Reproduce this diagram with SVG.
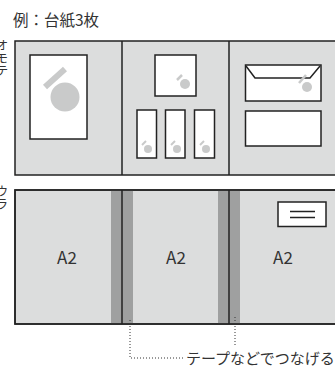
<svg xmlns="http://www.w3.org/2000/svg" width="335" height="367" viewBox="0 0 335 367">
<style>
.t{font-family:"Noto Sans CJK JP","Noto Sans",sans-serif;fill:#333}
.v{writing-mode:vertical-rl;font-size:12.5px}
.frame{fill:#dcdddd;stroke:#222;stroke-width:1.5}
.w{fill:#fff;stroke:#222;stroke-width:1.5}
.ln{stroke:#222;stroke-width:1.5;fill:none}
.c{fill:#c9caca}
.s{stroke:#c9caca;fill:none}
.tape{fill:#9fa0a0}
.dot{stroke:#333;stroke-width:1;stroke-dasharray:1 2;fill:none}
.a2{font-size:17px;text-anchor:middle}
</style>
<rect width="335" height="367" fill="#fff"/>
<text class="t" x="13" y="26" font-size="15.5">例：台紙3枚</text>
<g id="label-omote"><text class="t v" x="2" y="39">オモテ</text></g>
<g id="label-ura"><text class="t v" x="2" y="185">ウラ</text></g>
<g id="front">
<rect class="frame" x="15" y="41" width="330" height="134"/>
<line class="ln" x1="122" y1="41" x2="122" y2="175"/>
<line class="ln" x1="229" y1="41" x2="229" y2="175"/>
</g>
<g id="front-p1">
<rect class="w" x="30" y="55" width="57" height="84"/>
<line class="s" stroke-width="6" x1="45" y1="87" x2="65" y2="69"/>
<circle class="c" cx="65" cy="97" r="14.5"/>
</g>
<g id="front-p2">
<rect class="w" x="155" y="55" width="41" height="41"/>
<line class="s" stroke-width="2.5" x1="177" y1="80" x2="182" y2="75"/>
<circle class="c" cx="185" cy="84" r="5"/>
<rect class="w" x="137" y="110" width="19.5" height="48"/>
<rect class="w" x="165.5" y="110" width="19.5" height="48"/>
<rect class="w" x="194.5" y="110" width="20" height="48"/>
<line class="s" stroke-width="2" x1="142" y1="145" x2="146" y2="141"/>
<circle class="c" cx="148" cy="149" r="4"/>
<line class="s" stroke-width="2" x1="171" y1="145" x2="175" y2="141"/>
<circle class="c" cx="177" cy="149" r="4"/>
<line class="s" stroke-width="2" x1="200" y1="145" x2="204" y2="141"/>
<circle class="c" cx="206" cy="149" r="4"/>
</g>
<g id="front-p3">
<rect class="w" x="245.5" y="65" width="75.5" height="36"/>
<polyline class="ln" points="246,66 255,78 310,78 320,66"/>
<line class="s" stroke-width="2.5" x1="299" y1="83" x2="306" y2="75"/>
<circle class="c" cx="307" cy="87" r="5"/>
<rect class="w" x="245.5" y="111" width="75.5" height="35"/>
</g>
<g id="back">
<rect class="frame" x="15" y="190" width="330" height="134"/>
<rect class="tape" x="111" y="190.75" width="22" height="132.5"/>
<rect class="tape" x="218" y="190.75" width="22" height="132.5"/>
<line class="ln" x1="122" y1="190" x2="122" y2="324"/>
<line class="ln" x1="229" y1="190" x2="229" y2="324"/>
<rect x="15" y="190" width="330" height="134" fill="none" stroke="#222" stroke-width="1.5"/>
</g>
<g id="back-p1"><text class="t a2" x="67" y="264">A2</text></g>
<g id="back-p2"><text class="t a2" x="176" y="264">A2</text></g>
<g id="back-p3">
<text class="t a2" x="283" y="264">A2</text>
<rect class="w" x="278" y="202" width="48" height="24.5"/>
<line class="ln" x1="290" y1="211.5" x2="315" y2="211.5"/>
<line class="ln" x1="290" y1="217.5" x2="315" y2="217.5"/>
</g>
<g id="connectors">
<polyline class="dot" points="130,320 130,358 184,358"/>
<line class="dot" x1="235" y1="317" x2="235" y2="346"/>
</g>
<g id="note"><text class="t" x="186" y="364" font-size="15">テープなどでつなげる</text></g>
</svg>
